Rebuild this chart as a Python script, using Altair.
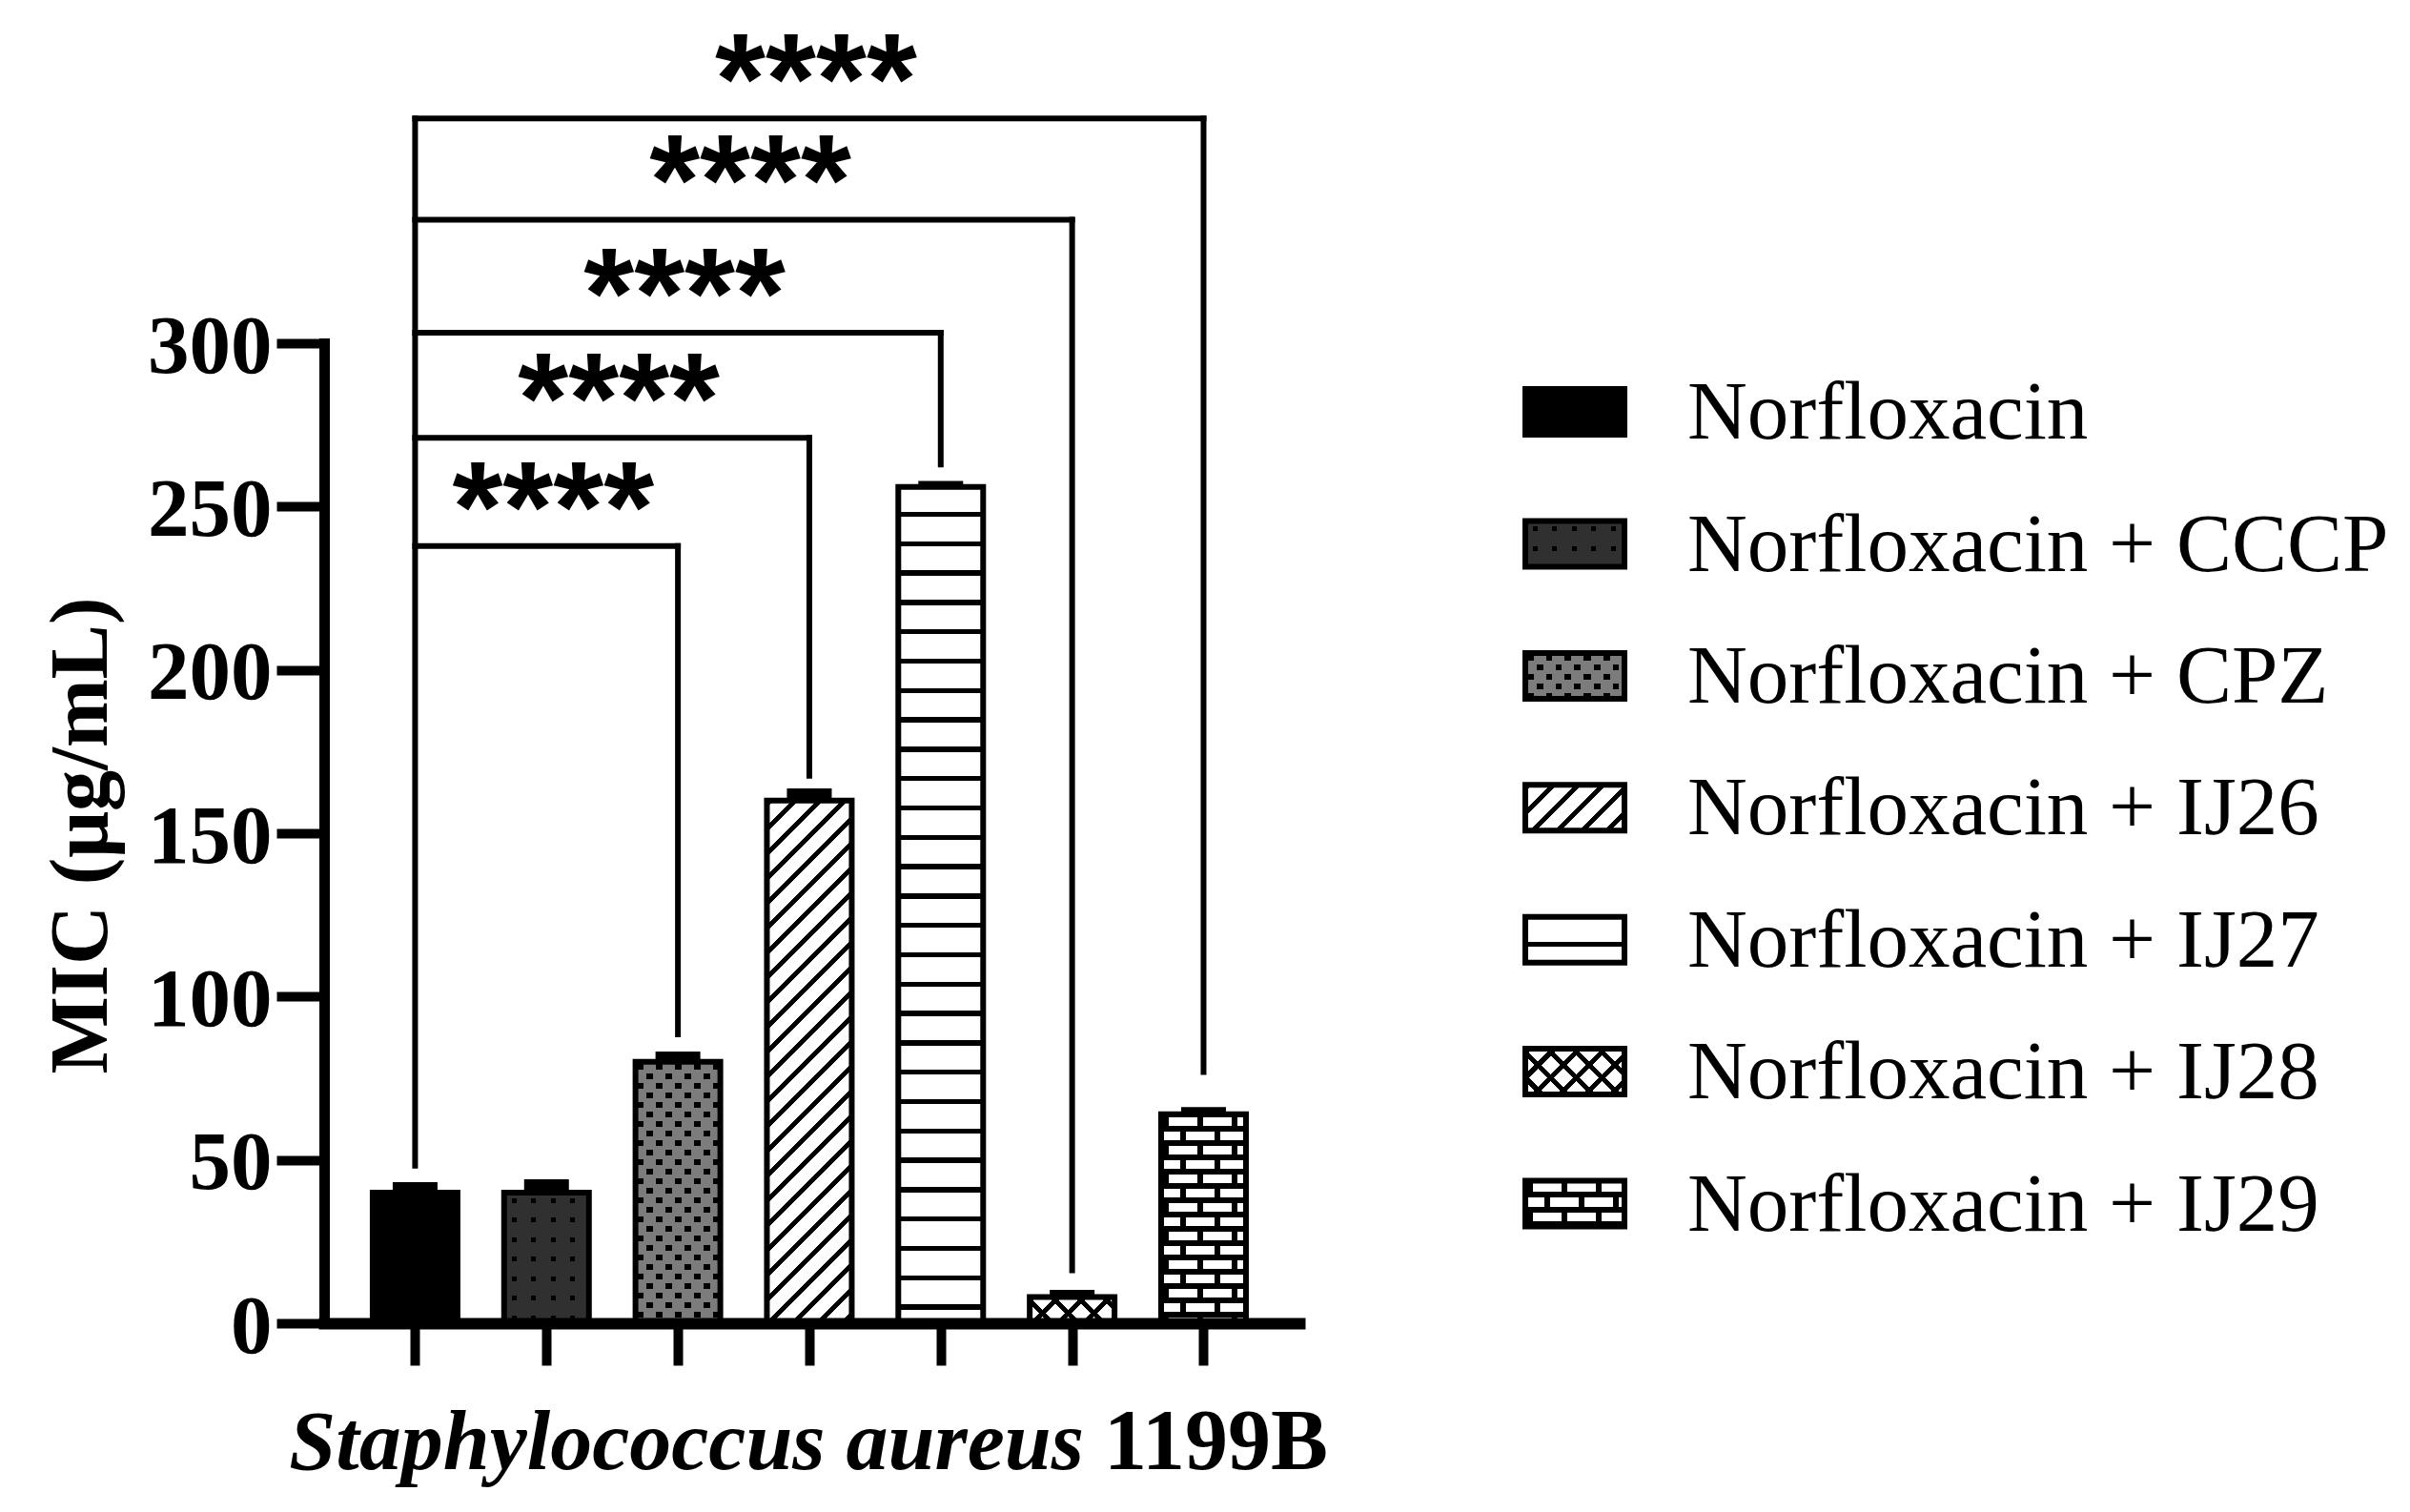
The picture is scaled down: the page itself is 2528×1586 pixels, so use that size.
import math
import altair as alt
import pandas as pd

# ---------------- data ----------------
categories = [
    "Norfloxacin",
    "Norfloxacin + CCCP",
    "Norfloxacin + CPZ",
    "Norfloxacin + IJ26",
    "Norfloxacin + IJ27",
    "Norfloxacin + IJ28",
    "Norfloxacin + IJ29",
]
mic_values = [40, 40, 80, 160, 256, 8, 64]
sd_values = [3.2, 4.1, 3.2, 3.7, 1.8, 2.2, 2.2]
y_ticks = [0, 50, 100, 150, 200, 250, 300]

bracket_to = [2, 3, 4, 5, 6]
bracket_level = [237.9, 271.0, 303.2, 337.8, 368.8]
bracket_end = [88.4, 167.6, 262.9, 16.2, 76.9]
bracket_left_end = 48.2
bracket_text = ["****", "****", "****", "****", "****"]

x_title = ["Staphylococcus aureus", "1199B"]
y_title = "MIC (μg/mL)"

# ---------------- layout / style ----------------
W, H = 1023, 1028
PX = H / 300.0
BAR_W = 89
CAP_W = 47
SW_W, SW_H = 104, 48
pattern_kinds = ["solid", "dots", "vdots", "hatch", "hlines", "cross", "brick"]


def stripe_fill(angle, period, line, phase, w, h, fg="#000000", bg="#ffffff"):
    a = math.radians(angle)
    sa, ca = math.sin(a), math.cos(a)
    corners = [(0.0, 0.0), (w, 0.0), (0.0, h), (w, h)]
    sv = [cx * sa + cy * ca for cx, cy in corners]
    smin, smax = min(sv), max(sv)
    c0 = corners[sv.index(smin)]
    span = smax - smin
    k = span / (w * w * sa * sa + h * h * ca * ca)
    gx, gy = w * sa * k, h * ca * k
    u1, v1 = c0[0] / w, c0[1] / h
    n0 = math.floor((smin - phase) / period) - 1
    n1 = math.ceil((smax - phase) / period) + 1
    intervals = []
    for n in range(n0, n1 + 1):
        s0 = phase + n * period
        t0 = (s0 - smin) / span
        t1 = (s0 + line - smin) / span
        if t1 <= 0 or t0 >= 1:
            continue
        intervals.append((max(t0, 0.0), min(t1, 1.0)))
    if not intervals:
        return bg
    stops = []

    def add(o, c):
        stops.append({"offset": round(o, 6), "color": c})

    pos = 0.0
    for t0, t1 in intervals:
        if t0 > pos:
            add(pos, bg)
            add(t0, bg)
        add(t0, fg)
        add(t1, fg)
        pos = t1
    if pos < 1:
        add(pos, bg)
        add(1.0, bg)
    return {"gradient": "linear", "x1": u1, "y1": v1, "x2": u1 + gx, "y2": v1 + gy, "stops": stops}


def pattern_fills(kind, w, h):
    if kind == "solid":
        return [("#000000", None)]
    if kind == "dots":
        return [
            (stripe_fill(0, 20.5, 5, 6, w, h), None),
            (stripe_fill(90, 20.5, 5, 8, w, h), "lighten"),
            ("#303030", "multiply"),
        ]
    if kind == "vdots":
        return [
            (stripe_fill(0, 20, 10, 0, w, h), None),
            (stripe_fill(90, 20, 10, 0, w, h), "difference"),
            (stripe_fill(0, 10, 6, 2, w, h), "lighten"),
            (stripe_fill(90, 10, 7, 1.5, w, h), "lighten"),
            ("#7c7c7c", "multiply"),
        ]
    if kind == "hatch":
        return [(stripe_fill(45, 18.4, 5, 0, w, h), None)]
    if kind == "hlines":
        return [(stripe_fill(0, 30.8, 5.5, 26, w, h), None)]
    if kind == "cross":
        return [
            (stripe_fill(45, 19, 5, 0, w, h), None),
            (stripe_fill(-45, 19, 5, 0, w, h), "darken"),
        ]
    # brick
    return [
        (stripe_fill(0, 30, 15, -3, w, h), None),
        (stripe_fill(90, 36, 18, -4, w, h), "difference"),
        (stripe_fill(90, 18, 6, 2, w, h), "lighten"),
        (stripe_fill(0, 15, 6, 12, w, h), "darken"),
    ]


# ---------------- scales / axes ----------------
xs = alt.Scale(domain=[-0.656, 6.693], nice=False, zero=False)
ys = alt.Scale(domain=[0, 300], nice=False, zero=True)

x_axis = alt.Axis(
    values=list(range(len(categories))), labels=False, ticks=True, tickSize=44, tickWidth=10,
    tickColor="black", domainColor="black", domainWidth=12, domainCap="square", grid=False, zindex=1,
)
y_axis = alt.Axis(
    values=y_ticks, tickSize=50, tickWidth=10, tickColor="black", domainColor="black", domainWidth=11,
    domainCap="square", grid=False, zindex=1, labelFont="Liberation Serif", labelFontWeight="bold",
    labelFontSize=87, labelColor="black", labelPadding=5, labelOffset=4, labelFlush=False,
    labelOverlap=False, titleFont="Liberation Serif", titleFontWeight="bold", titleFontSize=86,
    titleColor="black", titleAngle=270, titleX=-229, titleY=516, titleAlign="center",
    titleBaseline="alphabetic",
)


def x_enc(field):
    return alt.X(field, type="quantitative", scale=xs, axis=x_axis, title=None)


def y_enc(field):
    return alt.Y(field, type="quantitative", scale=ys, axis=y_axis, title=y_title)


df = pd.DataFrame({"name": categories, "idx": list(range(len(categories))), "mic": mic_values, "sd": sd_values})
base = alt.Chart(df)

main_layers = []

# error caps
main_layers.append(
    base.transform_calculate(top="datum.mic + datum.sd")
    .mark_bar(width=CAP_W, color="black")
    .encode(x=x_enc("idx"), y=y_enc("mic"), y2=alt.Y2("top:Q"))
)

# patterned bars
for i, kind in enumerate(pattern_kinds):
    h = mic_values[i] * PX
    for fill, blend in pattern_fills(kind, BAR_W, h):
        mk = dict(width=BAR_W, fill=fill, strokeWidth=0)
        if blend:
            mk["blend"] = blend
        main_layers.append(
            base.transform_filter(alt.datum.idx == i)
            .mark_bar(**mk)
            .encode(x=x_enc("idx"), y=y_enc("mic"), y2=alt.datum(0))
        )

# bar outlines
main_layers.append(
    base.mark_bar(width=BAR_W, fillOpacity=0, stroke="black", strokeWidth=6)
    .encode(x=x_enc("idx"), y=y_enc("mic"), y2=alt.datum(0))
)

# significance brackets
bdf = pd.DataFrame({
    "x0": [0] * len(bracket_to), "x1": bracket_to, "lvl": bracket_level,
    "end": bracket_end, "label": bracket_text,
})
rule_style = dict(color="black", strokeWidth=6, strokeCap="square")
main_layers.append(
    alt.Chart(bdf).mark_rule(**rule_style)
    .encode(x=x_enc("x0"), x2=alt.X2("x1:Q"), y=y_enc("lvl"))
)
main_layers.append(
    alt.Chart(bdf).mark_rule(**rule_style)
    .encode(x=x_enc("x1"), y=y_enc("lvl"), y2=alt.Y2("end:Q"))
)
left_df = pd.DataFrame({"x0": [0], "lo": [bracket_left_end], "hi": [max(bracket_level)]})
main_layers.append(
    alt.Chart(left_df).mark_rule(**rule_style)
    .encode(x=x_enc("x0"), y=y_enc("lo"), y2=alt.Y2("hi:Q"))
)
main_layers.append(
    alt.Chart(bdf).transform_calculate(xm="(datum.x0 + datum.x1) / 2")
    .mark_text(font="Liberation Sans", fontWeight="bold", fontSize=136, align="center",
               baseline="alphabetic", dx=7, dy=5, color="black")
    .encode(x=x_enc("xm"), y=y_enc("lvl"), text="label:N")
)

# x-axis title (italic species + bold strain)
tdf = pd.DataFrame({"part": x_title})
main_layers.append(
    alt.Chart(tdf).transform_filter(alt.datum.part == x_title[0])
    .mark_text(font="Liberation Serif", fontWeight="bold", fontStyle="italic", fontSize=88,
               align="right", baseline="alphabetic", color="black")
    .encode(x=alt.value(797), y=alt.value(1181), text="part:N")
)
main_layers.append(
    alt.Chart(tdf).transform_filter(alt.datum.part == x_title[1])
    .mark_text(font="Liberation Serif", fontWeight="bold", fontSize=90,
               align="left", baseline="alphabetic", color="black")
    .encode(x=alt.value(818), y=alt.value(1181), text="part:N")
)

main = alt.layer(*main_layers)

# ---------------- legend ----------------
ldf = pd.DataFrame({"name": categories})
ly = alt.Y("name:N", scale=alt.Scale(domain=categories, range=[2.9, 971.7], paddingInner=0.653,
                                     paddingOuter=0.3265), axis=None)
legend_layers = []
for i, kind in enumerate(pattern_kinds):
    for fill, blend in pattern_fills(kind, SW_W, SW_H):
        mk = dict(fill=fill, strokeWidth=0)
        if blend:
            mk["blend"] = blend
        legend_layers.append(
            alt.Chart(ldf).transform_filter(alt.datum.name == categories[i])
            .mark_rect(**mk)
            .encode(x=alt.value(1260), x2=alt.value(1260 + SW_W), y=ly)
        )
legend_layers.append(
    alt.Chart(ldf).mark_rect(fillOpacity=0, stroke="black", strokeWidth=6)
    .encode(x=alt.value(1260), x2=alt.value(1260 + SW_W), y=ly)
)
legend_layers.append(
    alt.Chart(ldf).mark_text(font="Liberation Serif", fontSize=87, align="left", baseline="middle",
                             dy=2, color="black")
    .encode(x=alt.value(1430), y=ly, text="name:N")
)
legend = alt.layer(*legend_layers)

chart = (
    alt.layer(main, legend)
    .resolve_scale(y="independent")
    .properties(width=W, height=H, padding={"left": 34, "top": 12, "right": 5, "bottom": 5},
                background="white")
    .configure_view(strokeWidth=0)
)

chart.save("out.html", embed_options={"renderer": "svg", "actions": False})
